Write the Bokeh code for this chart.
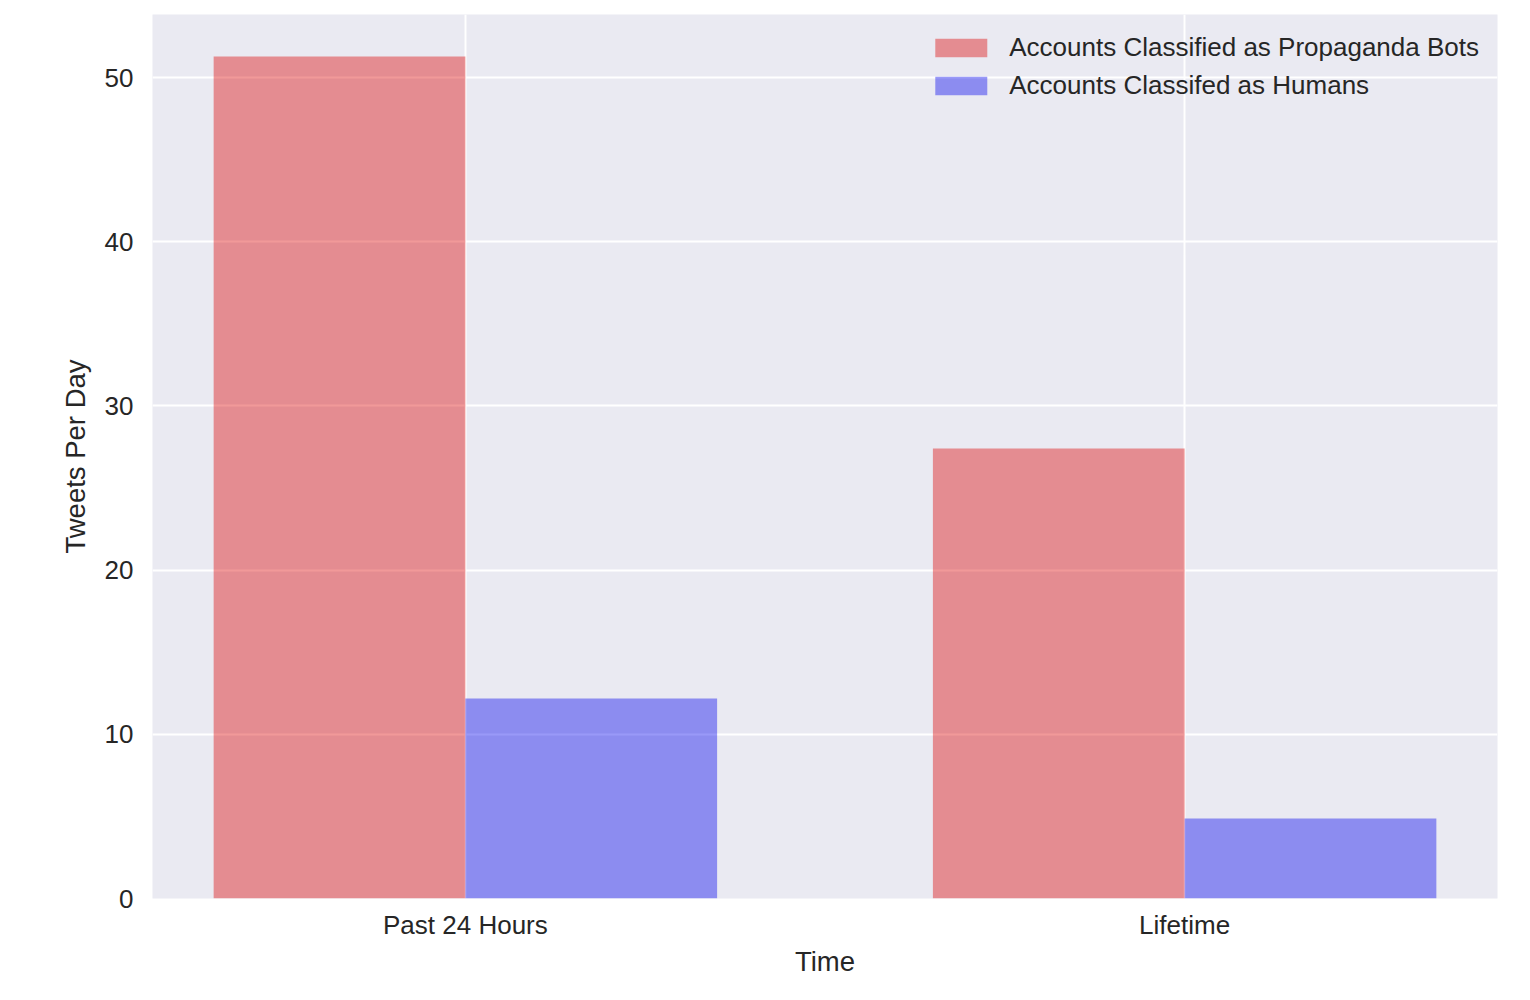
from bokeh.plotting import figure
from bokeh.models import Range1d, FixedTicker, ColumnDataSource, Legend, LegendItem
from bokeh.embed import file_html
from bokeh.resources import INLINE

categories = ["Past 24 Hours", "Lifetime"]
bots = [51.28, 27.4]
humans = [12.18, 4.87]
y_ticks = [0, 10, 20, 30, 40, 50]

bar_w = 0.35
idx = list(range(len(categories)))

FONT = "Liberation Sans"
TXT = "#262626"

p = figure(width=1518, height=988, output_backend="svg", toolbar_location=None,
           x_range=Range1d(-0.435, 1.435), y_range=Range1d(0, 53.84),
           min_border_left=152, min_border_top=14, min_border_right=21, min_border_bottom=90)

p.background_fill_color = "#EAEAF2"
p.border_fill_color = "white"
p.outline_line_color = None

src_b = ColumnDataSource(dict(x=[i - bar_w / 2 for i in idx], top=bots))
src_h = ColumnDataSource(dict(x=[i + bar_w / 2 for i in idx], top=humans))

rb = p.vbar(x="x", top="top", width=bar_w, bottom=0, source=src_b,
            fill_color="#DC0000", fill_alpha=0.4, line_color=None)
rh = p.vbar(x="x", top="top", width=bar_w, bottom=0, source=src_h,
            fill_color="#0000ED", fill_alpha=0.4, line_color=None)

for g in (p.xgrid[0], p.ygrid[0]):
    g.grid_line_color = "white"
    g.grid_line_width = 2

p.xaxis.ticker = FixedTicker(ticks=idx)
p.xaxis.major_label_overrides = {i: c for i, c in zip(idx, categories)}
p.yaxis.ticker = FixedTicker(ticks=y_ticks)

for ax in (p.xaxis[0], p.yaxis[0]):
    ax.axis_line_color = None
    ax.major_tick_line_color = None
    ax.minor_tick_line_color = None
    ax.major_tick_out = 0
    ax.major_tick_in = 0
    ax.minor_tick_out = 0
    ax.minor_tick_in = 0
    ax.major_label_text_font = FONT
    ax.major_label_text_font_size = "26px"
    ax.major_label_text_color = TXT
    ax.axis_label_text_font = FONT
    ax.axis_label_text_font_size = "27.5px"
    ax.axis_label_text_font_style = "normal"
    ax.axis_label_text_color = TXT

p.xaxis.axis_label = "Time"
p.yaxis.axis_label = "Tweets Per Day"
p.xaxis.major_label_standoff = 11
p.yaxis.major_label_standoff = 19
p.xaxis.axis_label_standoff = 3
p.yaxis.axis_label_standoff = 11

legend = Legend(items=[
    LegendItem(label="Accounts Classified as Propaganda Bots", renderers=[rb]),
    LegendItem(label="Accounts Classifed as Humans", renderers=[rh]),
], location="top_right")
legend.background_fill_alpha = 0
legend.border_line_alpha = 0
legend.label_text_font = FONT
legend.label_text_font_size = "26px"
legend.label_text_color = TXT
legend.glyph_width = 65
legend.glyph_height = 23
legend.label_height = 30
legend.label_standoff = 16
legend.spacing = 7
legend.margin = 9
legend.padding = 9
p.add_layout(legend)

open("out.html", "w").write(file_html(p, INLINE))
